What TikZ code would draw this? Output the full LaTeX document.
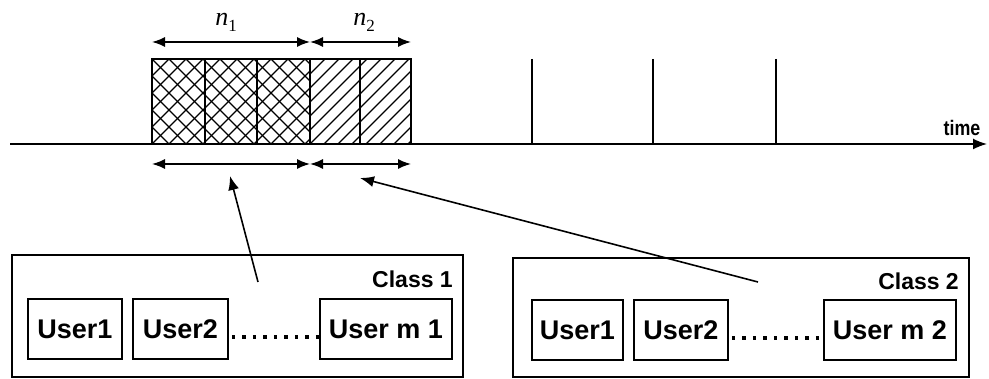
\documentclass[tikz,border=0pt]{standalone}
\usepackage{fontspec}
\setmainfont{Liberation Sans}
\newfontfamily\seriffont{Liberation Serif}
\usetikzlibrary{arrows.meta}
\begin{document}
\begin{tikzpicture}[x=1pt,y=-1pt,
  line/.style={line width=1.6pt},
  hatch/.style={line width=1.4pt},
  tip/.style={-{Latex[length=14pt,width=11pt]}},
  span/.style={line width=1.5pt,{Latex[length=13pt,width=10pt]}-{Latex[length=13pt,width=10pt]}},
  classbox/.style={draw,line width=1.8pt,inner sep=0pt},
  userbox/.style={draw,line width=1.8pt,minimum height=60pt,inner sep=0pt,
    font=\fontsize{27}{32}\selectfont\bfseries},
  classlbl/.style={font=\fontsize{23}{27}\selectfont\bfseries,anchor=east,inner sep=0pt},
  nlbl/.style={font=\fontsize{26}{30}\selectfont\seriffont,inner sep=0pt},
  dots/.style={line width=4pt,dash pattern=on 3.5pt off 7pt}]
\useasboundingbox (0,0) rectangle (989,379);
\fill[white] (0,0) rectangle (989,379);

% cross-hatched slots of the first class
\begin{scope}
  \clip (152,59) rectangle (310,144);
  \foreach \i in {-8,...,14} {
    \draw[hatch] (152+\i*17,144) -- ++(100,-100);
    \draw[hatch] (152+\i*17,59) -- ++(100,100);
  }
\end{scope}
% single-hatched slots of the second class
\begin{scope}
  \clip (310,59) rectangle (411,144);
  \foreach \i in {-8,...,10} {
    \draw[hatch] (310+\i*14,144) -- ++(100,-100);
  }
\end{scope}

% slot outlines
\foreach \a/\b/\n in {152/205/s1,205/257/s2,257/310/s3,310/360/s4,360/411/s5}
  \node[draw,line width=1.6pt,inner sep=0pt,minimum width=\b-\a,minimum height=85pt]
    (\n) at ({(\a+\b)/2},101.5) {};

% empty slot markers
\foreach \x/\n in {532/m1,653/m2,776/m3} {
  \coordinate (\n top) at (\x,59);
  \coordinate (\n bot) at (\x,144);
  \draw[line] (\n top) -- (\n bot);
}

% time axis
\coordinate (t0) at (10,144);
\coordinate (t1) at (987,144);
\draw[line,tip] (t0) -- (t1);
\node[font=\fontsize{21}{24}\selectfont\bfseries,inner sep=0pt,xscale=0.85] (timelbl) at (962,128) {time};

% span markers above and below the slots
\coordinate (a0) at (152,42);
\coordinate (a1) at (310,42);
\coordinate (a2) at (411,42);
\draw[span] (a0) -- (a1);
\draw[span] (a1) -- (a2);
\coordinate (b0) at (152,164);
\coordinate (b1) at (310,164);
\coordinate (b2) at (411,164);
\draw[span] (b0) -- (b1);
\draw[span] (b1) -- (b2);
\node[nlbl] (n1) at (226,22) {\itshape n\raisebox{-6pt}{\upshape\fontsize{17}{20}\selectfont 1}};
\node[nlbl] (n2) at (364,22) {\itshape n\raisebox{-6pt}{\upshape\fontsize{17}{20}\selectfont 2}};

% class 1 group
\node[classbox,minimum width=451pt,minimum height=122pt] (c1) at (237.5,316) {};
\node[classlbl] (c1lbl) at (453,279) {Class 1};
\node[userbox,minimum width=94pt] (c1u1) at (75,329) {User1};
\node[userbox,minimum width=95pt] (c1u2) at (180.5,329) {User2};
\node[userbox,minimum width=132pt] (c1um) at (386,329) {User m 1};
\draw[dots] ([yshift=-8pt,xshift=3pt]c1u2.east) -- ([yshift=-8pt]c1um.west);

% class 2 group
\node[classbox,minimum width=456pt,minimum height=119pt] (c2) at (741,317.5) {};
\node[classlbl] (c2lbl) at (959,281) {Class 2};
\node[userbox,minimum width=91pt] (c2u1) at (577.5,330) {User1};
\node[userbox,minimum width=94pt] (c2u2) at (681,330) {User2};
\node[userbox,minimum width=132pt] (c2um) at (890,330) {User m 2};
\draw[dots] ([yshift=-8pt,xshift=3pt]c2u2.east) -- ([yshift=-8pt]c2um.west);

% assignment arrows from the classes to their slot groups
\coordinate (p1) at (258,282);
\coordinate (q1) at (230,176);
\coordinate (p2) at (758,282);
\coordinate (q2) at (360,178);
\draw[line,tip] (p1) -- (q1);
\draw[line,tip] (p2) -- (q2);
\end{tikzpicture}
\end{document}
